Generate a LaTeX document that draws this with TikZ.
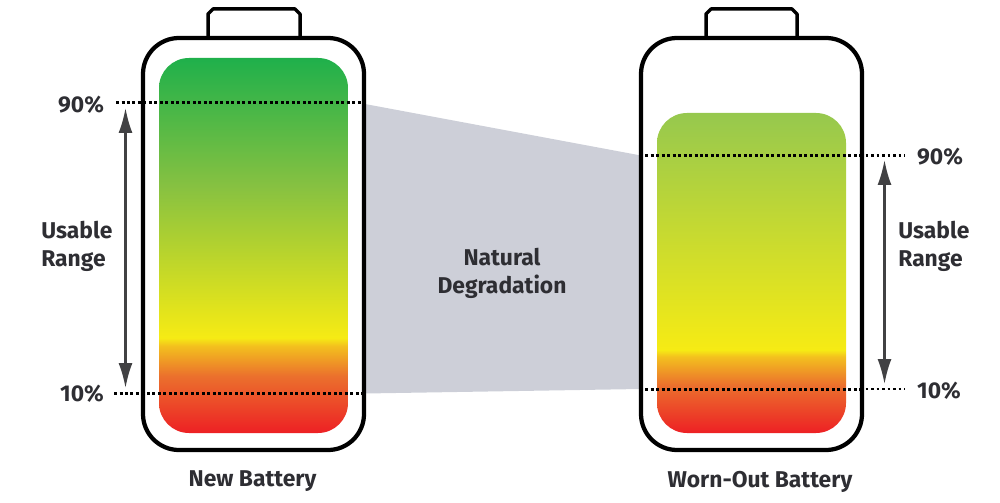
\documentclass[tikz,border=0pt]{standalone}
\usepackage{fontspec}
\setmainfont{Fira Sans}[BoldFont={Fira Sans Bold}]
\usetikzlibrary{arrows.meta}
\definecolor{inkgray}{HTML}{2E2E33}
\definecolor{arrowgray}{HTML}{414143}
\definecolor{wedgegray}{HTML}{CDCFD8}
\definecolor{cellred}{HTML}{ED2024}
\definecolor{cellorange}{HTML}{EB702D}
\definecolor{cellamber}{HTML}{F3C01E}
\definecolor{cellyellow}{HTML}{F6EB14}
\definecolor{cellgreen}{HTML}{1FB04B}
\definecolor{cellmoss}{HTML}{86C141}
\definecolor{celllime}{HTML}{96C84E}
\pgfdeclareverticalshading{newcell}{100bp}{color(0bp)=(cellred);color(25bp)=(cellred);color(32.6bp)=(cellorange);color(36.6bp)=(cellamber);color(37.7bp)=(cellyellow);color(58bp)=(cellmoss);color(75bp)=(cellgreen);color(100bp)=(cellgreen)}
\pgfdeclareverticalshading{worncell}{100bp}{color(0bp)=(cellred);color(25bp)=(cellred);color(32.5bp)=(cellorange);color(36.9bp)=(cellamber);color(38bp)=(cellyellow);color(75bp)=(celllime);color(100bp)=(celllime)}
\tikzset{
  cellfill/.style={rounded corners=0.6cm},
  shell/.style={draw=black,line width=0.085cm,rounded corners=0.72cm},
  capline/.style={draw=black,line width=0.07cm,line join=round},
  dotline/.style={draw=black,line width=0.06cm,dash pattern=on 0.06cm off 0.05cm},
  dotthin/.style={draw=black,line width=0.045cm,dash pattern=on 0.05cm off 0.06cm},
  rangearrow/.style={draw=arrowgray,line width=0.042cm,{Latex[length=0.5cm,width=0.28cm]}-{Latex[length=0.5cm,width=0.28cm]}},
  lbl/.style={text=inkgray,font=\fontsize{13}{15.8}\selectfont\bfseries,align=center,inner sep=0pt},
  rangelbl/.style={lbl,align=left,anchor=west}
}
\begin{document}
\begin{tikzpicture}[x=0.02cm,y=-0.02cm]
  \useasboundingbox (0,0) rectangle (1000,503);
  % wedge between the two cells
  \fill[wedgegray] (365,104) -- (641,155.5) -- (641,389) -- (365,393.5) -- cycle;
  % new battery
  \shade[shading=newcell,cellfill] (159,58) rectangle (348,433);
  \draw[shell] (143,38) rectangle (364,450);
  \draw[capline] (208,38) -- (208,14) -- (213,9) -- (295,9) -- (300,14) -- (300,38);
  % worn battery
  \shade[shading=worncell,cellfill] (657,113) rectangle (846,433);
  \draw[shell] (641,38) rectangle (862,450);
  \draw[capline] (706,38) -- (706,14) -- (711,9) -- (792,9) -- (797,14) -- (797,38);
  % levels
  \coordinate (newtopL) at (116,103);
  \coordinate (newtopR) at (362,103);
  \coordinate (newlowL) at (114,393.5);
  \coordinate (newlowR) at (362,393.5);
  \coordinate (worntopL) at (645,155.5);
  \coordinate (worntopM) at (860,155.5);
  \coordinate (worntopR) at (905,155.5);
  \coordinate (wornlowL) at (645,389);
  \coordinate (wornlowM) at (860,389);
  \coordinate (wornlowR) at (905,389);
  \draw[dotline] (newtopL) -- (newtopR);
  \draw[dotline] (newlowL) -- (newlowR);
  \draw[dotline] (worntopL) -- (worntopM);
  \draw[dotline] (wornlowL) -- (wornlowM);
  \draw[dotthin] (worntopM) -- (worntopR);
  \draw[dotthin] (wornlowM) -- (wornlowR);
  % range arrows
  \coordinate (newarrowT) at (125.5,108);
  \coordinate (newarrowB) at (125.5,388);
  \coordinate (wornarrowT) at (884.5,160);
  \coordinate (wornarrowB) at (884.5,384);
  \draw[rangearrow] (newarrowT) -- (newarrowB);
  \draw[rangearrow] (wornarrowT) -- (wornarrowB);
  % labels
  \node[lbl] (newtop) at (81,105) {90\%};
  \node[lbl] (newlow) at (82,393.5) {10\%};
  \node[rangelbl] (newrange) at (41,246.5) {Usable\\Range};
  \node[lbl] (worntop) at (940,156.5) {90\%};
  \node[lbl] (wornlow) at (939,390.5) {10\%};
  \node[rangelbl] (wornrange) at (898,246.5) {Usable\\Range};
  \node[lbl] (fade) at (502,273.5) {Natural\\Degradation};
  \node[lbl] (newname) at (252.5,481.5) {New Battery};
  \node[lbl] (wornname) at (760,481.5) {Worn-Out Battery};
\end{tikzpicture}
\end{document}
